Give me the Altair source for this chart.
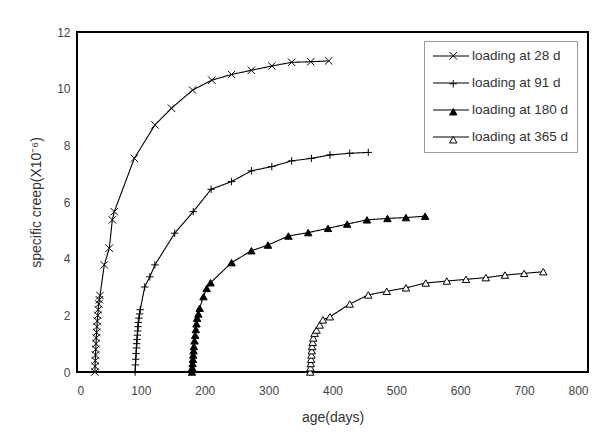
import altair as alt
import pandas as pd

series_names = ["loading at 28 d", "loading at 91 d", "loading at 180 d", "loading at 365 d"]
marker_keys = ["m28", "m91", "m180", "m365"]

age_28 = [28, 28.3, 28.6, 29, 29.4, 29.8, 30.2, 30.7, 31.2, 31.8, 32.5, 33.2, 34, 35, 36,
          42.7, 50.6, 55.3, 58.4, 89.7, 122, 148, 181, 211, 242, 273, 305, 336, 366, 394]
creep_28 = [0, 0.2, 0.4, 0.6, 0.8, 1.0, 1.2, 1.4, 1.6, 1.8, 2.0, 2.2, 2.4, 2.55, 2.7,
            3.78, 4.37, 5.37, 5.66, 7.54, 8.72, 9.31, 9.95, 10.3, 10.5, 10.65, 10.8, 10.93, 10.95, 10.98]

age_91 = [91, 91.5, 92, 92.5, 93, 93.5, 94, 94.5, 95, 95.5, 96, 97, 98, 99,
          106, 114, 122, 153, 182, 210, 242, 273, 305, 336, 367, 396, 427, 456]
creep_91 = [0, 0.25, 0.45, 0.65, 0.85, 1.0, 1.15, 1.3, 1.45, 1.6, 1.75, 1.9, 2.05, 2.2,
            3.0, 3.36, 3.78, 4.9, 5.66, 6.45, 6.72, 7.1, 7.25, 7.45, 7.54, 7.66, 7.72, 7.75]

age_180 = [180, 180.5, 181, 181.5, 182, 182.5, 183, 184, 185, 186, 187, 188, 190, 192,
           198, 203, 209, 242, 273, 299, 331, 362, 393, 423, 454, 486, 515, 545]
creep_180 = [0, 0.15, 0.3, 0.45, 0.6, 0.75, 0.9, 1.1, 1.3, 1.5, 1.7, 1.9, 2.05, 2.25,
             2.66, 2.95, 3.15, 3.86, 4.28, 4.48, 4.8, 4.92, 5.07, 5.22, 5.37, 5.42, 5.45, 5.5]

age_365 = [365, 365.5, 366, 366.5, 367, 367.5, 368, 369, 370, 372,
           375, 380, 385, 396, 427, 456, 485, 515, 546, 579, 609, 640, 670, 700, 730]
creep_365 = [0, 0.15, 0.3, 0.45, 0.6, 0.75, 0.9, 1.05, 1.2, 1.37,
             1.48, 1.66, 1.84, 1.95, 2.4, 2.72, 2.85, 2.97, 3.14, 3.21, 3.27, 3.33, 3.42, 3.48, 3.54]

x_ticks = [0, 100, 200, 300, 400, 500, 600, 700, 800]
y_ticks = [0, 2, 4, 6, 8, 10, 12]

rows = []
for name, key, ages, vals in zip(series_names, marker_keys,
                                 [age_28, age_91, age_180, age_365],
                                 [creep_28, creep_91, creep_180, creep_365]):
    for i, (a, v) in enumerate(zip(ages, vals)):
        rows.append({"series": name, "marker": key, "age": a, "creep": v, "order": i})
df = pd.DataFrame(rows)

FONT = "Liberation Sans"
LEG_FS = 13.5
ROW_PAD = 13

x_enc = alt.X("age:Q", scale=alt.Scale(domain=[0, 800], nice=False),
              axis=alt.Axis(values=x_ticks, title="age(days)", labelPadding=13, titlePadding=14))
y_enc = alt.Y("creep:Q", scale=alt.Scale(domain=[0, 12], nice=False),
              axis=alt.Axis(values=y_ticks, title="specific creep(X10⁻⁶)", labelPadding=7, titlePadding=13))

# line sample, drawn as a long stroke offset to the right of the symbol's nominal centre
line_path = "M-1,0L5,0"

line_legend = alt.Legend(
    title=None, orient="none", legendX=347, legendY=9,
    symbolType=line_path, symbolSize=144, symbolStrokeColor="black", symbolStrokeWidth=1.2,
    symbolFillColor="transparent",
    labelFont=FONT, labelFontSize=LEG_FS, labelColor="#333", labelOffset=26,
    padding=8, rowPadding=ROW_PAD, strokeColor="#999",
)

shape_legend = alt.Legend(
    title=None, orient="none", legendX=361.5, legendY=9,
    symbolSize=55, symbolStrokeColor="black", symbolStrokeWidth=1,
    labelFont=FONT, labelFontSize=LEG_FS, labelExpr="''", labelOffset=3,
    padding=8, rowPadding=ROW_PAD,
)

lines = alt.Chart(df).mark_line(color="black", strokeWidth=1.1).encode(
    x=x_enc, y=y_enc, order="order:Q",
    strokeDash=alt.StrokeDash("series:N",
                              scale=alt.Scale(domain=series_names, range=[[1, 0]] * 4),
                              legend=line_legend),
)

path_x = "M-1,-1L1,1M-1,1L1,-1"
path_plus = "M0,-1L0,1M-1,0L1,0"

points = alt.Chart(df).mark_point(filled=True, strokeWidth=1, size=55, opacity=1).encode(
    x=x_enc, y=y_enc,
    shape=alt.Shape("marker:N",
                    scale=alt.Scale(domain=marker_keys,
                                    range=[path_x, path_plus, "triangle-up", "triangle-up"]),
                    legend=shape_legend),
    fill=alt.Fill("marker:N",
                  scale=alt.Scale(domain=marker_keys,
                                  range=["transparent", "transparent", "black", "white"]),
                  legend=shape_legend),
    stroke=alt.Stroke("marker:N",
                      scale=alt.Scale(domain=marker_keys,
                                      range=["black", "black", "black", "black"]),
                      legend=shape_legend),
)

chart = alt.layer(lines, points).properties(
    width=511, height=340,
    autosize=alt.AutoSizeParams(type="none"),
    padding={"left": 69, "top": 24, "right": 14, "bottom": 60},
).configure_view(
    stroke="black", strokeWidth=2,
).configure_axis(
    domain=False, ticks=False, grid=False,
    labelFont=FONT, labelFontSize=12, labelColor="#444",
    titleFont=FONT, titleFontSize=14, titleFontWeight="normal", titleColor="#333",
)

chart.save("out.html", embed_options={"renderer": "svg", "actions": False})
